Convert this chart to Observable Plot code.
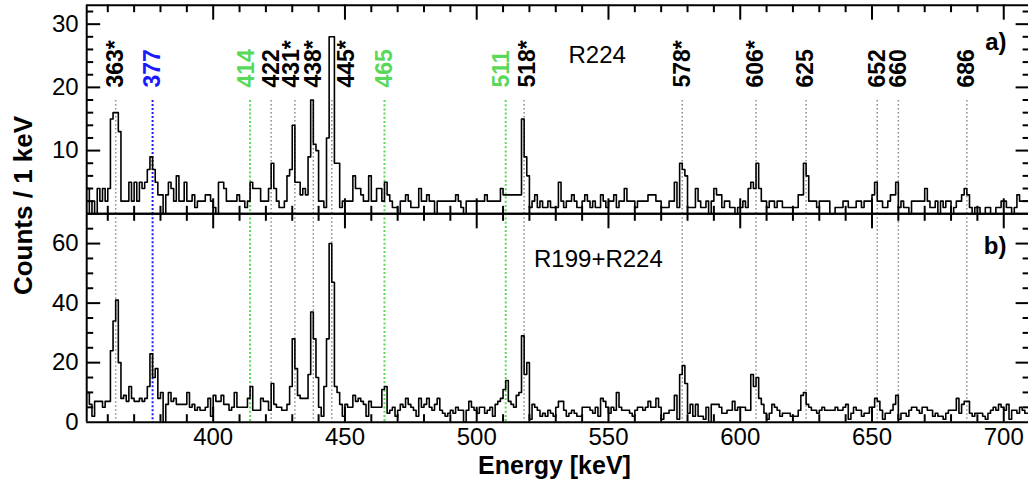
<!DOCTYPE html>
<html>
<head>
<meta charset="utf-8">
<script src="https://cdn.jsdelivr.net/npm/d3@7"></script>
<script src="https://cdn.jsdelivr.net/npm/@observablehq/plot@0.6"></script>
<style>
  html, body { margin: 0; padding: 0; background: #ffffff; }
  #chart { position: relative; width: 1028px; height: 484px; overflow: hidden; background: #ffffff; }
  #chart svg { position: absolute; left: 0; top: 0; }
</style>
</head>
<body>
<div id="chart"></div>
<script>
// 1 keV bins, left edges 352 ... 709 keV
const binStart = 352;

// a) run R224
const countsR224 = [
  4,0,2,0,4,2,4,2,4,15,
  16,16,13,2,2,2,5,2,5,2,
  5,4,5,7,9,7,5,3,3,0,
  3,5,4,2,6,2,2,5,2,2,
  3,1,2,2,2,3,3,2,1,0,
  5,5,4,2,2,2,2,3,2,2,
  1,2,5,4,4,4,2,2,2,4,
  8,4,2,1,1,2,6,7,14,5,
  5,3,4,3,9,18,11,10,2,2,
  1,12,28,28,8,8,1,2,2,2,
  2,6,4,4,3,2,2,6,2,2,
  4,4,2,5,3,2,1,1,0,2,
  2,3,2,1,1,1,4,2,2,3,
  2,2,0,2,2,2,2,2,2,2,
  3,2,1,0,2,2,2,2,2,2,
  2,3,2,2,2,2,2,4,3,3,
  3,3,3,3,3,15,9,6,1,2,
  3,1,2,1,1,2,1,1,1,5,
  2,1,2,2,3,2,1,1,2,3,
  2,1,2,1,1,3,2,1,2,2,
  3,1,2,2,4,2,2,2,1,2,
  2,2,2,3,3,3,2,2,1,1,
  1,2,2,5,1,8,7,6,1,1,
  1,4,2,1,1,2,0,2,4,3,
  3,1,2,2,1,1,0,1,1,2,
  1,4,5,4,8,4,2,2,1,2,
  2,1,2,2,1,1,1,1,1,1,
  3,3,8,6,2,2,2,1,2,2,
  2,2,0,0,1,1,1,2,2,1,
  1,1,2,2,1,2,2,2,3,5,
  2,2,1,1,2,3,3,5,1,2,
  1,1,0,2,2,2,2,2,4,2,
  1,1,2,0,2,1,2,2,0,1,
  2,2,3,4,3,1,0,1,1,0,
  0,1,1,0,0,1,1,2,2,1,
  1,0,1,3,2,2,2,2
];

// b) runs R199 + R224 summed
const countsSum = [
  10,6,2,7,7,7,5,7,7,24,
  34,41,20,8,9,7,12,8,7,7,
  8,7,8,12,23,15,18,8,10,0,
  6,10,7,8,6,6,6,6,10,5,
  6,4,5,4,4,5,8,2,9,7,
  7,9,6,6,4,5,10,5,5,5,
  5,8,12,4,4,4,8,7,7,4,
  13,6,5,5,4,4,6,12,28,18,
  9,8,8,8,16,37,28,15,5,2,
  12,28,60,47,12,10,6,2,6,5,
  5,9,7,8,7,6,2,7,5,5,
  5,5,11,12,3,4,5,2,4,6,
  5,8,6,5,4,2,8,5,6,8,
  5,4,6,8,4,3,2,3,4,3,
  5,4,4,0,4,7,5,4,3,5,
  5,3,4,5,2,6,7,8,11,14,
  7,6,5,9,10,29,16,20,1,6,
  5,4,2,3,2,4,3,2,5,7,
  7,4,2,3,4,3,2,2,5,5,
  5,4,3,5,2,8,7,5,3,5,
  4,10,5,4,4,4,3,2,4,5,
  5,4,5,7,5,5,8,5,1,3,
  3,4,4,9,1,16,19,13,3,6,
  2,6,2,2,1,5,0,6,6,6,
  5,3,3,4,4,7,4,5,5,5,
  4,4,16,12,15,8,6,3,1,3,
  6,5,4,2,3,3,3,2,2,2,
  4,9,10,6,5,4,4,3,4,5,
  4,4,4,4,5,4,4,5,6,1,
  3,5,4,4,2,3,3,5,5,8,
  7,4,1,3,3,4,6,9,1,3,
  3,2,4,5,5,4,3,5,5,4,
  4,2,3,2,2,1,3,4,4,4,
  8,3,6,7,7,3,2,3,3,3,
  2,1,3,4,5,4,6,5,4,6,
  1,4,4,3,5,4,3,3
];

// marked gamma-ray energies (keV), their labels and line families
const lineEnergies = [363, 377, 414, 422, 431, 438, 445, 465, 511, 518, 578, 606, 625, 652, 660, 686];
const lineLabels   = ["363*", "377", "414", "422", "431*", "438*", "445*", "465", "511", "518*", "578*", "606*", "625", "652", "660", "686"];
const lineGroups   = ["gamma", "blue", "green", "gamma", "gamma", "gamma", "gamma", "green", "green", "gamma", "gamma", "gamma", "gamma", "gamma", "gamma", "gamma"];

// axis ticks
const energyTicks = [400, 450, 500, 550, 600, 650, 700];
const countTicksA = [10, 20, 30];
const countTicksB = [0, 20, 40, 60];

const FONT = "'Liberation Sans', Arial, Helvetica, sans-serif";
const W = 1028, H = 484;
const ML = 86.2, MR = -1.6;
const FRAME_W = W - ML - MR;

const lines = lineEnergies.map((e, i) => ({e, label: lineLabels[i], group: lineGroups[i]}));
const ruleStyle = {
  gamma: {stroke: "#8c8c8c", strokeWidth: 1.5, strokeDasharray: "1.4,2.6"},
  blue:  {stroke: "#1a1aff", strokeWidth: 2,   strokeDasharray: "2,2"},
  green: {stroke: "#5ad85a", strokeWidth: 2,   strokeDasharray: "2,2.2"}
};
const labelColor = {gamma: "#000000", blue: "#1a1aff", green: "#5ad85a"};
// sideways shifts (px) that keep crowded labels clear of neighbouring peaks
const labelShift = {"414": -3, "431*": -3, "445*": 15, "511": -4, "518*": 3};

function steps(counts) {
  const pts = counts.map((n, i) => ({e: binStart + i, n}));
  pts.push({e: binStart + counts.length, n: counts[counts.length - 1]});
  return pts;
}

function tickMarks(frameH, yMajor, yMinor) {
  const xMinor = d3.range(360, 711, 10).filter(v => v % 50 !== 0);
  const s = {stroke: "#000", strokeWidth: 2};
  return [
    Plot.ruleX(xMinor, {x: d => d, insetTop: frameH - 7.5, ...s}),
    Plot.ruleX(energyTicks, {x: d => d, insetTop: frameH - 15, ...s}),
    Plot.ruleX(xMinor, {x: d => d, insetBottom: frameH - 7.5, ...s}),
    Plot.ruleX(energyTicks, {x: d => d, insetBottom: frameH - 15, ...s}),
    Plot.ruleY(yMinor, {y: d => d, insetRight: FRAME_W - 7, ...s}),
    Plot.ruleY(yMajor, {y: d => d, insetRight: FRAME_W - 14, ...s}),
    Plot.ruleY(yMinor, {y: d => d, insetLeft: FRAME_W - 7, ...s}),
    Plot.ruleY(yMajor, {y: d => d, insetLeft: FRAME_W - 14, ...s})
  ];
}

function guideRules(insetTop) {
  return ["gamma", "blue", "green"].map(g =>
    Plot.ruleX(lines.filter(d => d.group === g), {x: "e", insetTop, ...ruleStyle[g]})
  );
}

function lineTexts(baseY) {
  return lines.map(d =>
    Plot.text([d], {
      x: "e", text: "label", frameAnchor: "top", dy: baseY, dx: labelShift[d.label] || 0,
      rotate: -90, textAnchor: "start", lineAnchor: "middle",
      fill: labelColor[d.group], fontWeight: "bold", fontSize: 23
    })
  );
}

const svgStyle = `background: transparent; overflow: visible; font-family: ${FONT}; font-size: 24px; color: #000;`;

// ---- panel a ----
const aTop = 4.7, aBottom = 213.3, yMaxA = 33;
const aFrameH = aBottom - aTop;
const panelA = Plot.plot({
  width: W, height: H,
  marginTop: aTop, marginBottom: H - aBottom, marginLeft: ML, marginRight: MR,
  style: svgStyle,
  x: {domain: [352, 710], axis: null},
  y: {domain: [0, yMaxA]},
  marks: [
    ...guideRules(100 - aTop),
    Plot.line(steps(countsR224), {x: "e", y: "n", curve: "step-after", stroke: "#000", strokeWidth: 1.6}),
    ...tickMarks(aFrameH, [10, 20, 30], d3.range(2, 33, 2).filter(v => v % 10 !== 0)),
    Plot.ruleX([352], {x: d => d, stroke: "#000", strokeWidth: 2}),
    Plot.ruleY([0, yMaxA], {y: d => d, stroke: "#000", strokeWidth: 2}),
    Plot.axisY({ticks: countTicksA, tickSize: 0, tickPadding: 8, fontSize: 24, label: null}),
    ...lineTexts(87 - aTop),
    Plot.text(["R224"], {text: d => d, frameAnchor: "top-left", dx: 568 - ML, dy: 62.5 - aTop,
      textAnchor: "start", lineAnchor: "bottom", fontSize: 24}),
    Plot.text(["a)"], {text: d => d, frameAnchor: "top-right", dx: 1006 - (W - MR), dy: 49 - aTop,
      textAnchor: "end", lineAnchor: "bottom", fontSize: 24, fontWeight: "bold"}),
    Plot.text(["Counts / 1 keV"], {text: d => d, frameAnchor: "left", dx: 31.5 - ML, dy: 205 - (aTop + aBottom) / 2,
      rotate: -90, textAnchor: "middle", lineAnchor: "bottom", fontSize: 26, fontWeight: "bold"})
  ]
});

// ---- panel b ----
const bTop = 213.3, bBottom = 421.7, yMaxB = 70;
const bFrameH = bBottom - bTop;
const panelB = Plot.plot({
  width: W, height: H,
  marginTop: bTop, marginBottom: H - bBottom, marginLeft: ML, marginRight: MR,
  style: svgStyle,
  x: {domain: [352, 710]},
  y: {domain: [0, yMaxB]},
  marks: [
    ...guideRules(0),
    Plot.line(steps(countsSum), {x: "e", y: "n", curve: "step-after", stroke: "#000", strokeWidth: 1.6}),
    ...tickMarks(bFrameH, [20, 40, 60], d3.range(5, 70, 5).filter(v => v % 20 !== 0)),
    Plot.ruleX([352], {x: d => d, stroke: "#000", strokeWidth: 2}),
    Plot.ruleY([0, yMaxB], {y: d => d, stroke: "#000", strokeWidth: 2}),
    Plot.axisY({ticks: countTicksB, tickSize: 0, tickPadding: 8, fontSize: 24, label: null}),
    Plot.axisX({ticks: energyTicks, tickSize: 0, tickPadding: 5.6, fontSize: 24, label: null}),
    Plot.text(["R199+R224"], {text: d => d, frameAnchor: "top-left", dx: 533.5 - ML, dy: 266.5 - bTop,
      textAnchor: "start", lineAnchor: "bottom", fontSize: 24}),
    Plot.text(["b)"], {text: d => d, frameAnchor: "top-right", dx: 1006 - (W - MR), dy: 253 - bTop,
      textAnchor: "end", lineAnchor: "bottom", fontSize: 24, fontWeight: "bold"}),
    Plot.text(["Energy [keV]"], {text: d => d, frameAnchor: "bottom", dx: 554 - (ML + W - MR) / 2, dy: 473 - bBottom,
      textAnchor: "middle", lineAnchor: "bottom", fontSize: 25, fontWeight: "bold"})
  ]
});

const chart = document.getElementById("chart");
chart.appendChild(panelA);
chart.appendChild(panelB);
</script>
</body>
</html>
